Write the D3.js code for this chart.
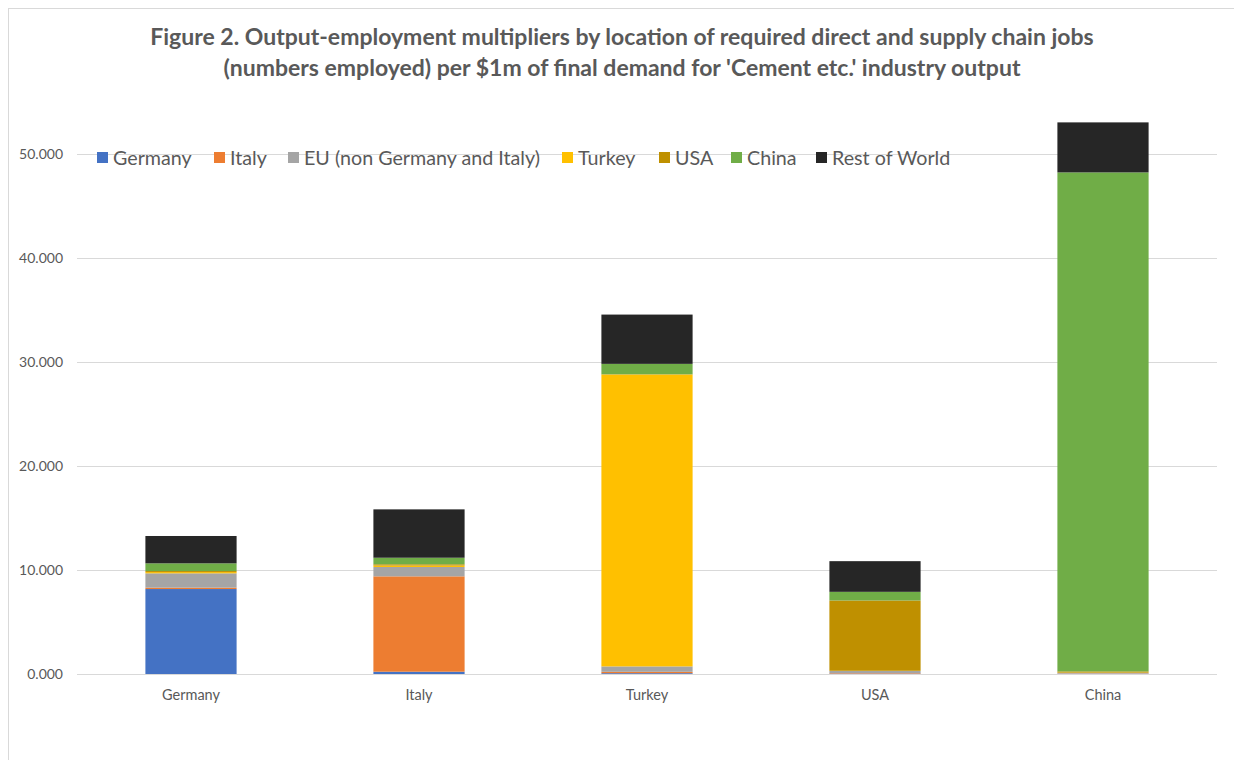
<!DOCTYPE html>
<html><head><meta charset="utf-8">
<script src="https://cdn.jsdelivr.net/npm/d3@7"></script>
<style>
html,body{margin:0;padding:0;background:#fff;}
svg{display:block;}
text{font-family:Lato,"Open Sans",sans-serif;fill:#595959;}
</style></head>
<body><svg id="chart" width="1234" height="760"></svg>
<script>
const categories = ["Germany", "Italy", "Turkey", "USA", "China"];
const seriesNames = ["Germany", "Italy", "EU (non Germany and Italy)", "Turkey", "USA", "China", "Rest of World"];
const germany = [8.17, 0.22, 0.08, 0.04, 0.03];
const italy   = [0.13, 9.17, 0.13, 0.05, 0.03];
const eu      = [1.38, 0.90, 0.52, 0.20, 0.05];
const turkey  = [0.12, 0.14, 28.07, 0.02, 0.02];
const usa     = [0.10, 0.12, 0.02, 6.76, 0.12];
const china   = [0.74, 0.63, 1.00, 0.83, 47.98];
const rest    = [2.63, 4.65, 4.74, 2.95, 4.81];
const yTicks  = [0, 10, 20, 30, 40, 50];
const colors  = ["#4472C4", "#ED7D31", "#A5A5A5", "#FFC000", "#BF9000", "#70AD47", "#262626"];
const titleLines = ["Figure 2. Output-employment multipliers by location of required direct and supply chain jobs",
                    "(numbers employed) per $1m of final demand for 'Cement etc.' industry output"];

(function(){
const seriesValues = [germany, italy, eu, turkey, usa, china, rest];
const rows = categories.map((c, i) => {
  const r = {cat: c};
  seriesNames.forEach((s, j) => r[s] = seriesValues[j][i]);
  return r;
});
const stacked = d3.stack().keys(seriesNames)(rows);

const svg = d3.select("#chart");
svg.append("rect").attr("x", 8.5).attr("y", 8.5).attr("width", 1300).attr("height", 900)
  .attr("fill", "#fff").attr("stroke", "#d9d9d9");

const mL = 77, mR = 1217, mT = 154, mB = 674;
const x = d3.scaleBand().domain(categories).range([mL, mR]).paddingInner(0.6).paddingOuter(0.3);
const y = d3.scaleLinear().domain([0, 50]).range([mB, mT]);

svg.append("g").selectAll("line").data(yTicks).join("line")
  .attr("x1", mL).attr("x2", mR)
  .attr("y1", d => Math.round(y(d)) + 0.5).attr("y2", d => Math.round(y(d)) + 0.5)
  .attr("stroke", "#d9d9d9").attr("stroke-width", 1);

svg.append("g").selectAll("text").data(yTicks).join("text")
  .attr("x", 63).attr("y", d => y(d)).attr("dy", "0.35em")
  .attr("text-anchor", "end").attr("font-size", 14)
  .text(d => d3.format(".3f")(d));

svg.append("g").selectAll("g").data(stacked).join("g")
  .attr("fill", (d, i) => colors[i])
  .selectAll("rect").data(d => d).join("rect")
  .attr("x", d => x(d.data.cat))
  .attr("width", x.bandwidth())
  .attr("y", d => y(d[1]))
  .attr("height", d => Math.max(0, y(d[0]) - y(d[1])));

svg.append("g").selectAll("text").data(categories).join("text")
  .attr("x", d => x(d) + x.bandwidth() / 2).attr("y", 700)
  .attr("text-anchor", "middle").attr("font-size", 14.5)
  .text(d => d);

svg.append("g").selectAll("text").data(titleLines).join("text")
  .attr("x", 622).attr("y", (d, i) => 45 + i * 31)
  .attr("text-anchor", "middle").attr("font-size", 23).attr("font-weight", "bold")
  .text(d => d);

const legendX = [97, 214, 288, 562, 659, 731, 816];
const lg = svg.append("g").selectAll("g").data(seriesNames).join("g")
  .attr("transform", (d, i) => `translate(${legendX[i]},158)`);
lg.append("rect").attr("x", 0).attr("y", -6).attr("width", 11).attr("height", 11)
  .attr("fill", (d, i) => colors[i]);
lg.append("text").attr("x", 16).attr("y", 0).attr("dy", "0.35em")
  .attr("font-size", 19.7).text(d => d);
})();
</script></body></html>
